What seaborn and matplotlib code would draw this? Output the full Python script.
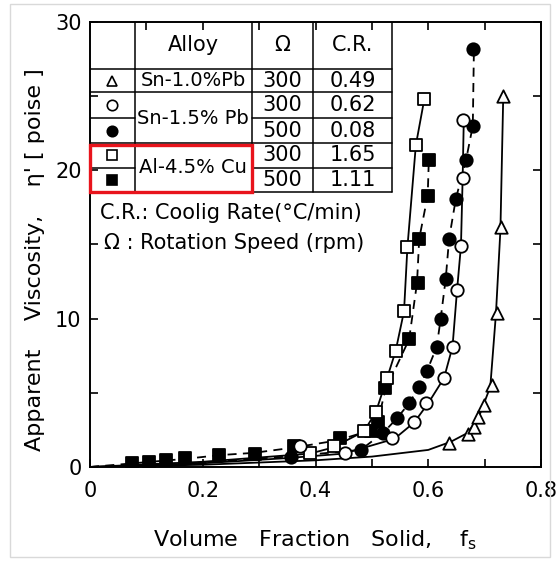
import matplotlib
matplotlib.use("Agg")
import matplotlib.pyplot as plt
import seaborn as sns
import pandas as pd
from matplotlib.patches import Rectangle
from matplotlib.ticker import MultipleLocator, FixedLocator

# measured points: volume fraction solid vs apparent viscosity (poise)
tri_fs = [0.636, 0.670, 0.681, 0.688, 0.699, 0.713, 0.722, 0.729, 0.732]
tri_v = [1.6, 2.2, 2.7, 3.4, 4.2, 5.5, 10.4, 16.2, 25.0]

ocir_fs = [0.373, 0.453, 0.536, 0.575, 0.596, 0.628, 0.643, 0.651, 0.658, 0.661, 0.661]
ocir_v = [1.4, 0.94, 1.95, 3.0, 4.3, 6.0, 8.1, 11.9, 14.9, 19.5, 23.4]

fcir_fs = [0.357, 0.480, 0.519, 0.545, 0.566, 0.584, 0.598, 0.616, 0.622, 0.631,
           0.637, 0.649, 0.667, 0.679, 0.679]
fcir_v = [0.7, 1.15, 2.3, 3.3, 4.3, 5.4, 6.5, 8.1, 10.0, 12.7, 15.4, 18.1, 20.7, 23.0, 28.2]

osq_fs = [0.391, 0.432, 0.486, 0.507, 0.527, 0.542, 0.557, 0.563, 0.578, 0.593]
osq_v = [0.95, 1.4, 2.4, 3.7, 6.0, 7.8, 10.5, 14.8, 21.7, 24.8]

fsq_fs = [0.075, 0.105, 0.135, 0.169, 0.228, 0.293, 0.361, 0.444, 0.498, 0.510,
          0.524, 0.566, 0.581, 0.584, 0.599, 0.601]
fsq_v = [0.25, 0.35, 0.45, 0.6, 0.8, 0.9, 1.4, 1.95, 2.4, 3.0, 5.3, 8.6, 12.4, 15.4, 18.3, 20.7]

# fitted curves as drawn in the figure
tri_curve_fs = [0.0, 0.2, 0.4, 0.5, 0.6, 0.64, 0.67, 0.69, 0.71, 0.72, 0.728, 0.733]
tri_curve_v = [0.0, 0.15, 0.45, 0.7, 1.15, 1.7, 2.3, 3.4, 5.4, 10.3, 16.0, 25.0]

ocir_curve_fs = [0.0, 0.2, 0.35, 0.45, 0.54, 0.575, 0.6, 0.628, 0.643, 0.651, 0.658, 0.661, 0.663]
ocir_curve_v = [0.0, 0.25, 0.6, 0.9, 1.9, 3.0, 4.3, 6.0, 8.1, 11.9, 14.9, 19.5, 23.4]

fcir_curve_fs = [0.0, 0.2, 0.35, 0.48, 0.52, 0.545, 0.566, 0.584, 0.598, 0.615, 0.622,
                 0.631, 0.637, 0.649, 0.667, 0.679, 0.681]
fcir_curve_v = [0.0, 0.3, 0.7, 1.15, 2.3, 3.3, 4.3, 5.4, 6.5, 8.1, 10.0,
                12.7, 15.4, 18.1, 20.7, 23.0, 28.2]

osq_curve_fs = [0.0, 0.2, 0.39, 0.43, 0.486, 0.507, 0.527, 0.542, 0.557, 0.563, 0.578, 0.593]
osq_curve_v = [0.0, 0.35, 0.9, 1.3, 2.4, 3.7, 6.0, 7.8, 10.5, 14.8, 21.7, 24.8]

fsq_curve_fs = [0.0, 0.17, 0.23, 0.29, 0.36, 0.44, 0.5, 0.51, 0.524, 0.566, 0.58, 0.584, 0.599, 0.601]
fsq_curve_v = [0.0, 0.55, 0.8, 0.95, 1.3, 1.8, 2.5, 3.0, 5.2, 8.6, 12.4, 15.4, 18.3, 20.7]

# table contents
alloys = ["Sn-1.0%Pb", "Sn-1.5% Pb", "Al-4.5% Cu"]
speeds = ["300", "300", "500", "300", "500"]
rates = ["0.49", "0.62", "0.08", "1.65", "1.11"]

sns.set_style("ticks")
plt.rcParams["font.family"] = ["DejaVu Sans"]
plt.rcParams["mathtext.fontset"] = "dejavusans"
plt.rcParams["text.color"] = "black"
plt.rcParams["axes.labelcolor"] = "black"
plt.rcParams["xtick.color"] = "black"
plt.rcParams["ytick.color"] = "black"
plt.rcParams["axes.edgecolor"] = "black"

fig = plt.figure(figsize=(5.57, 5.61), dpi=100)
ax = fig.add_axes([0.1616, 0.1676, 0.8097, 0.7932])

dash = (0, (5, 3.5))
curves = [
    (tri_curve_fs, tri_curve_v, "-"),
    (ocir_curve_fs, ocir_curve_v, "-"),
    (fcir_curve_fs, fcir_curve_v, dash),
    (osq_curve_fs, osq_curve_v, "-"),
    (fsq_curve_fs, fsq_curve_v, dash),
]
for cx, cy, ls in curves:
    sns.lineplot(x=cx, y=cy, sort=False, estimator=None, color="black",
                 linewidth=1.3, ax=ax, linestyle=ls)

series = [
    (fsq_fs, fsq_v, "s", "black"),
    (fcir_fs, fcir_v, "o", "black"),
    (osq_fs, osq_v, "s", "white"),
    (ocir_fs, ocir_v, "o", "white"),
    (tri_fs, tri_v, "^", "white"),
]
for sx, sy, mk, fc in series:
    sns.scatterplot(x=sx, y=sy, marker=mk, s=80, color=fc, edgecolor="black",
                    linewidth=1.3, ax=ax, zorder=5)

ax.set_xlim(0, 0.8)
ax.set_ylim(0, 30)
ax.xaxis.set_major_locator(FixedLocator([0, 0.2, 0.4, 0.6, 0.8]))
ax.set_xticklabels(["0", "0.2", "0.4", "0.6", "0.8"])
ax.xaxis.set_minor_locator(MultipleLocator(0.1))
ax.yaxis.set_major_locator(MultipleLocator(10))
ax.yaxis.set_minor_locator(MultipleLocator(5))
ax.tick_params(which="both", direction="in", top=True, right=True, labelsize=15)
ax.tick_params(axis="x", pad=10)
ax.tick_params(axis="y", pad=6)
ax.tick_params(which="major", length=6, width=1.2)
ax.tick_params(which="minor", length=6, width=1.2)
for sp in ax.spines.values():
    sp.set_linewidth(1.4)

ax.set_xlabel("Volume   Fraction   Solid,    f$_\\mathregular{s}$", fontsize=16, labelpad=20)
ax.set_ylabel("Apparent    Viscosity,    \u03b7' [ poise ]", fontsize=16)
ax.yaxis.set_label_coords(-0.10, 0.465)

# table drawn in axes coordinates
T = ax.transAxes
cols = [0.0, 0.0998, 0.3585, 0.4951, 0.6689]
rows = [1.0, 0.8944, 0.8416, 0.7836, 0.7274, 0.6730, 0.6187]
lk = dict(color="black", linewidth=1.1, transform=T, zorder=6)
for y in [rows[1], rows[2], rows[4], rows[6]]:
    ax.plot([0, cols[4]], [y, y], **lk)
for y in [rows[3], rows[5]]:
    ax.plot([0, cols[1]], [y, y], **lk)
    ax.plot([cols[2], cols[4]], [y, y], **lk)
for x in cols[1:]:
    ax.plot([x, x], [rows[6], 1.0], **lk)

tk = dict(transform=T, fontsize=15, ha="center", va="center", zorder=7)
ak = dict(tk, fontsize=14)
hy = (rows[0] + rows[1]) / 2
ax.text((cols[1] + cols[2]) / 2, hy, "Alloy", **tk)
ax.text((cols[2] + cols[3]) / 2, hy, "\u03a9", **tk)
ax.text((cols[3] + cols[4]) / 2, hy, "C.R.", **tk)

row_mid = [(rows[i] + rows[i + 1]) / 2 for i in range(1, 6)]
sym = [("^", "white"), ("o", "white"), ("o", "black"), ("s", "white"), ("s", "black")]
for i, (mk, fc) in enumerate(sym):
    ax.plot([0.049], [row_mid[i]], marker=mk, markersize=7.5, markerfacecolor=fc,
            markeredgecolor="black", markeredgewidth=1.2, transform=T, zorder=7)
    ax.text((cols[2] + cols[3]) / 2, row_mid[i], speeds[i], **tk)
    ax.text((cols[3] + cols[4]) / 2, row_mid[i], rates[i], **tk)
ax.text((cols[1] + cols[2]) / 2, row_mid[0], alloys[0], **ak)
ax.text((cols[1] + cols[2]) / 2, rows[3], alloys[1], **ak)
ax.text((cols[1] + cols[2]) / 2, rows[5], alloys[2], **ak)

ax.text(0.022, 0.571, "C.R.: Coolig Rate(\u00b0C/min)", transform=T, fontsize=15,
        ha="left", va="center", zorder=7)
ax.text(0.03, 0.503, "\u03a9 : Rotation Speed (rpm)", transform=T, fontsize=15,
        ha="left", va="center", zorder=7)

ax.add_patch(Rectangle((0.0, rows[6]), cols[2], 0.7236 - rows[6], transform=T,
                       fill=False, edgecolor="#e8141c", linewidth=2.4, zorder=8,
                       clip_on=False))

fig.patches.append(Rectangle((0.018, 0.008), 0.97, 0.984, transform=fig.transFigure,
                             fill=False, edgecolor="#d9d9d9", linewidth=1.0))

fig.savefig("out.png", dpi=100)
